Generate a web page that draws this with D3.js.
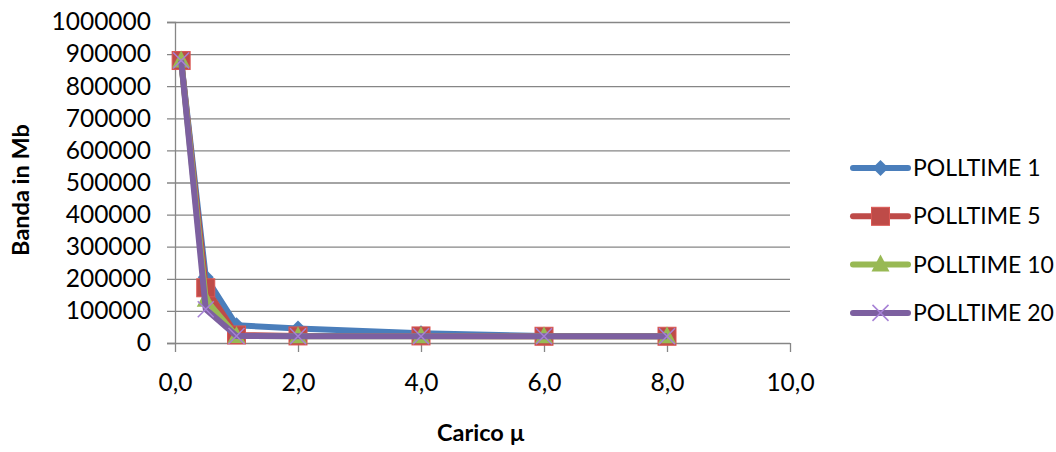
<!DOCTYPE html>
<meta charset="utf-8">
<style>
body { margin: 0; background: #fff; }
text { font-family: Lato, "Liberation Sans", sans-serif; fill: #000; }
.tick text { font-size: 24.5px; }
.title { font-size: 23.5px; font-weight: bold; }
.legend text { font-size: 23px; }
</style>
<svg width="1056" height="452"></svg>
<script src="https://d3js.org/d3.v7.min.js"></script>
<script>

// carico (x) values
var carico = [0.1, 0.5, 1, 2, 4, 6, 8];

var seriesNames = ["POLLTIME 1", "POLLTIME 5", "POLLTIME 10", "POLLTIME 20"];

// banda in Mb, one array per polltime
var poll1  = [880000, 205000, 55000, 45000, 30000, 22000, 21000];
var poll5  = [880000, 172000, 25000, 22000, 22000, 21000, 21000];
var poll10 = [880000, 135000, 22000, 21000, 21000, 21000, 21000];
var poll20 = [880000, 105000, 22000, 21000, 21000, 21000, 21000];

var xTicks = [0, 2, 4, 6, 8, 10];
var yTicks = [0, 100000, 200000, 300000, 400000, 500000, 600000, 700000, 800000, 900000, 1000000];

var colors = ["#4a7ebb", "#be4b48", "#98b954", "#7d60a0"];
var shapes = ["diamond", "square", "triangle", "cross"];
var allSeries = [poll1, poll5, poll10, poll20];

var svg = d3.select("svg");
var margin = {left: 175, top: 22, right: 266, bottom: 109};
var width = 1056 - margin.left - margin.right,
	height = 452 - margin.top - margin.bottom;

var x = d3.scaleLinear().domain([0, 10]).range([0, width]);
var y = d3.scaleLinear().domain([0, 1000000]).range([height, 0]);

var g = svg.append("g").attr("transform", "translate(" + margin.left + "," + margin.top + ")");

// horizontal gridlines + y axis
var yAxis = g.append("g")
	.call(d3.axisLeft(y).tickValues(yTicks).tickSize(8).tickFormat(d3.format("d")));
yAxis.select(".domain").attr("stroke", "#868686").attr("stroke-width", 1.3);
yAxis.selectAll(".tick line").attr("stroke", "#868686").attr("stroke-width", 1.3)
	.attr("x2", width).attr("x1", -8);
yAxis.selectAll(".tick text").attr("x", -24).attr("font-family", null).attr("font-size", null);

var xAxis = g.append("g")
	.attr("transform", "translate(0," + height + ")")
	.call(d3.axisBottom(x).tickValues(xTicks).tickSize(9)
		.tickFormat(function(d) { return d3.format(".1f")(d).replace(".", ","); }));
xAxis.select(".domain").remove();
xAxis.selectAll(".tick line").attr("stroke", "#868686").attr("stroke-width", 1.3);
xAxis.selectAll(".tick text").attr("y", 31).attr("font-family", null).attr("font-size", null);

// axis titles
svg.append("text").attr("class", "title")
	.attr("transform", "translate(29,190) rotate(-90)")
	.attr("text-anchor", "middle")
	.text("Banda in Mb");
svg.append("text").attr("class", "title")
	.attr("x", 481).attr("y", 441)
	.attr("text-anchor", "middle")
	.text("Carico µ");

var line = d3.line()
	.x(function(d, i) { return x(carico[i]); })
	.y(function(d) { return y(d); });

function marker(sel, shape, color) {
	if (shape === "diamond") {
		sel.append("path").attr("d", "M0,-8L8,0L0,8L-8,0Z").attr("fill", color);
	} else if (shape === "square") {
		sel.append("rect").attr("x", -9).attr("y", -9).attr("width", 18).attr("height", 18)
			.attr("fill", color).attr("stroke", d3.rgb(color).brighter(0.4)).attr("stroke-width", 1);
	} else if (shape === "triangle") {
		sel.append("path").attr("d", "M0,-10L9,7L-9,7Z").attr("fill", color);
	} else {
		sel.append("path").attr("d", "M-8,-8L8,8M8,-8L-8,8").attr("stroke", d3.rgb(color).brighter(0.8)).attr("stroke-width", 1.5);
	}
}

allSeries.forEach(function(s, k) {
	var sg = g.append("g");
	sg.append("path")
		.datum(s)
		.attr("fill", "none")
		.attr("stroke", colors[k])
		.attr("stroke-width", 6)
		.attr("stroke-linejoin", "round")
		.attr("d", line);
	sg.selectAll(".pt")
		.data(s)
		.enter().append("g")
		.attr("transform", function(d, i) { return "translate(" + x(carico[i]) + "," + y(d) + ")"; })
		.each(function() { marker(d3.select(this), shapes[k], colors[k]); });
});

// legend
var legend = svg.append("g").attr("class", "legend")
	.attr("transform", "translate(853,168)");
var item = legend.selectAll("g")
	.data(seriesNames)
	.enter().append("g")
	.attr("transform", function(d, i) { return "translate(0," + i * 48.3 + ")"; });
item.append("line")
	.attr("x1", 0).attr("x2", 55)
	.attr("stroke", function(d, i) { return colors[i]; })
	.attr("stroke-width", 6)
	.attr("stroke-linecap", "round");
item.append("g")
	.attr("transform", "translate(27.5,0)")
	.each(function(d, i) { marker(d3.select(this), shapes[i], colors[i]); });
item.append("text")
	.attr("x", 60).attr("dy", "0.35em")
	.text(function(d) { return d; });

</script>
